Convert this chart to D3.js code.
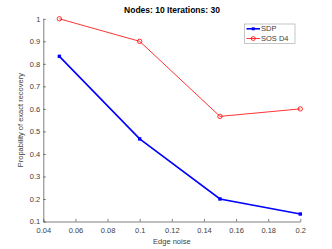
<!DOCTYPE html>
<html><head><meta charset="utf-8">
<script src="https://cdn.jsdelivr.net/npm/d3@7"></script>
<style>body{margin:0;background:#fff}svg{display:block}text{font-family:"Liberation Sans",Arial,sans-serif}</style>
</head><body>
<script>
const noise = [0.05, 0.1, 0.15, 0.2];
const sdp = [0.8333, 0.4667, 0.2, 0.1333];
const sos = [1.0, 0.9, 0.5667, 0.6];
const xTicks = [0.04, 0.06, 0.08, 0.1, 0.12, 0.14, 0.16, 0.18, 0.2];
const yTicks = [0.1, 0.2, 0.3, 0.4, 0.5, 0.6, 0.7, 0.8, 0.9, 1];
const seriesNames = ["SDP", "SOS D4"];

const W = 332, H = 249;
const svg = d3.select("body").append("svg").attr("width", W).attr("height", H);
const x = d3.scaleLinear().domain([0.04, 0.2]).range([43.3, 300.3]);
const y = d3.scaleLinear().domain([0.1, 1]).range([221.5, 18.8]);

const tc = "#404040";
const xa = svg.append("g").attr("transform", `translate(0,${y(0.1)})`)
  .call(d3.axisBottom(x).tickValues(xTicks).tickSizeInner(-2.5).tickSizeOuter(0).tickFormat(d => d3.format("")(+d.toFixed(2))));
const ya = svg.append("g").attr("transform", `translate(${x(0.04)},0)`)
  .call(d3.axisLeft(y).tickValues(yTicks).tickSizeInner(-2.5).tickSizeOuter(0).tickFormat(d => d3.format("")(+d.toFixed(1))));
[xa, ya].forEach(a => {
  a.select(".domain").attr("stroke", "#262626").attr("stroke-width", 0.6);
  a.selectAll(".tick line").attr("stroke", "#262626").attr("stroke-width", 0.6);
  a.selectAll("text").attr("fill", tc).style("font-size", "7.5px");
});
xa.selectAll("text").attr("dy", 0).attr("y", 11);
ya.selectAll("text").attr("x", -3);

svg.append("text").attr("x", x(0.12)).attr("y", 244).attr("text-anchor", "middle")
  .attr("fill", tc).style("font-size", "7.5px").text("Edge noise");
svg.append("text").attr("transform", `translate(23,${y(0.55)}) rotate(-90)`).attr("text-anchor", "middle")
  .attr("fill", tc).style("font-size", "7.5px").text("Propability of exact recovery");
svg.append("text").attr("x", 172).attr("y", 13).attr("text-anchor", "middle")
  .attr("fill", "#000").style("font-size", "8.5px").style("font-weight", "bold").text("Nodes: 10 Iterations: 30");

const line = d3.line().x((d, i) => x(noise[i])).y(d => y(d));
svg.append("path").datum(sdp).attr("d", line).attr("fill", "none").attr("stroke", "#0000ff").attr("stroke-width", 1.6);
svg.selectAll(".sq").data(sdp).enter().append("rect")
  .attr("x", (d, i) => x(noise[i]) - 1.7).attr("y", d => y(d) - 1.7).attr("width", 3.4).attr("height", 3.4).attr("fill", "#0000ff");
svg.append("path").datum(sos).attr("d", line).attr("fill", "none").attr("stroke", "#ff0000").attr("stroke-width", 0.8);
svg.selectAll(".ci").data(sos).enter().append("circle")
  .attr("cx", (d, i) => x(noise[i])).attr("cy", d => y(d)).attr("r", 2.2).attr("fill", "none").attr("stroke", "#ff0000").attr("stroke-width", 0.8);

// legend
const lg = svg.append("g");
lg.append("rect").attr("x", 244.5).attr("y", 24).attr("width", 50.5).attr("height", 19.5).attr("fill", "#fff").attr("stroke", "#a0a0a0").attr("stroke-width", 0.6);
const ly = [28.8, 38.5];
lg.append("line").attr("x1", 246.5).attr("x2", 260).attr("y1", ly[0]).attr("y2", ly[0]).attr("stroke", "#0000ff").attr("stroke-width", 1.6);
lg.append("rect").attr("x", 253.25 - 1.5).attr("y", ly[0] - 1.5).attr("width", 3).attr("height", 3).attr("fill", "#0000ff");
lg.append("line").attr("x1", 246.5).attr("x2", 260).attr("y1", ly[1]).attr("y2", ly[1]).attr("stroke", "#ff0000").attr("stroke-width", 0.8);
lg.append("circle").attr("cx", 253.25).attr("cy", ly[1]).attr("r", 2).attr("fill", "none").attr("stroke", "#ff0000").attr("stroke-width", 0.8);
seriesNames.forEach((n, i) => lg.append("text").attr("x", 261).attr("y", ly[i] + 2.6).attr("fill", tc).style("font-size", "7.5px").text(n));
</script>
</body></html>
